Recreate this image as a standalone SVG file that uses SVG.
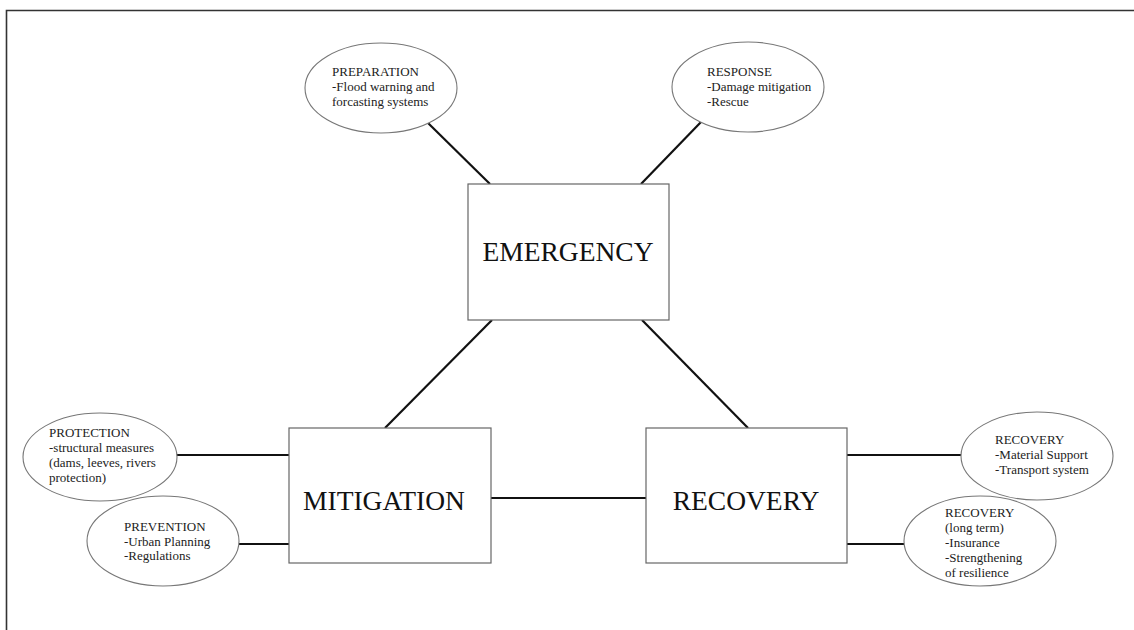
<svg xmlns="http://www.w3.org/2000/svg" width="1134" height="630" viewBox="0 0 1134 630">
<style>
.frame{stroke:#333;stroke-width:1.6;fill:none}
.box{fill:#fff;stroke:#666;stroke-width:1.2}
.ell{fill:#fff;stroke:#777;stroke-width:1.1}
.conn line{stroke:#111;stroke-width:2.2}
.big{font-family:"Liberation Serif","Times New Roman",serif;font-size:27.5px;fill:#111;text-anchor:middle}
.small{font-family:"Liberation Serif","Times New Roman",serif;font-size:13px;fill:#222}
</style>
<rect width="1134" height="630" fill="#fff"/>
<path class="frame" d="M6.5 630 V10.5 H1134"/>
<g class="conn" id="connectors">
<line x1="428" y1="123" x2="490" y2="184"/>
<line x1="701" y1="122" x2="641" y2="184"/>
<line x1="492" y1="320" x2="385" y2="428"/>
<line x1="642" y1="320" x2="748" y2="428"/>
<line x1="491" y1="498" x2="646" y2="498"/>
<line x1="176" y1="455" x2="289" y2="455"/>
<line x1="239" y1="544" x2="289" y2="544"/>
<line x1="847" y1="455" x2="961" y2="455"/>
<line x1="847" y1="544" x2="904" y2="544"/>
</g>
<g id="emergency">
<rect class="box" x="468" y="184" width="201" height="136"/>
<text class="big" x="568" y="261">EMERGENCY</text>
</g>
<g id="mitigation">
<rect class="box" x="289" y="428" width="202" height="135"/>
<text class="big" x="384" y="510">MITIGATION</text>
</g>
<g id="recovery">
<rect class="box" x="646" y="428" width="201" height="135"/>
<text class="big" x="746" y="510">RECOVERY</text>
</g>
<g id="preparation">
<ellipse class="ell" cx="381" cy="88" rx="76" ry="45"/>
<text class="small"><tspan x="332" y="76">PREPARATION</tspan><tspan x="332" y="91">-Flood warning and</tspan><tspan x="332" y="106">forcasting systems</tspan></text>
</g>
<g id="response">
<ellipse class="ell" cx="748" cy="87" rx="76" ry="45"/>
<text class="small"><tspan x="707" y="76">RESPONSE</tspan><tspan x="707" y="91">-Damage mitigation</tspan><tspan x="707" y="106">-Rescue</tspan></text>
</g>
<g id="protection">
<ellipse class="ell" cx="100" cy="457" rx="77" ry="44"/>
<text class="small"><tspan x="49" y="437">PROTECTION</tspan><tspan x="49" y="452">-structural measures</tspan><tspan x="49" y="467">(dams, leeves, rivers</tspan><tspan x="49" y="482">protection)</tspan></text>
</g>
<g id="prevention">
<ellipse class="ell" cx="163" cy="541" rx="76" ry="45"/>
<text class="small"><tspan x="124" y="531">PREVENTION</tspan><tspan x="124" y="546">-Urban Planning</tspan><tspan x="124" y="560">-Regulations</tspan></text>
</g>
<g id="recovery-short">
<ellipse class="ell" cx="1037" cy="456" rx="76" ry="44"/>
<text class="small"><tspan x="995" y="444">RECOVERY</tspan><tspan x="995" y="459">-Material Support</tspan><tspan x="995" y="474">-Transport system</tspan></text>
</g>
<g id="recovery-long">
<ellipse class="ell" cx="980" cy="541" rx="76" ry="45"/>
<text class="small"><tspan x="945" y="517">RECOVERY</tspan><tspan x="945" y="532">(long term)</tspan><tspan x="945" y="547">-Insurance</tspan><tspan x="945" y="562">-Strengthening</tspan><tspan x="945" y="577">of resilience</tspan></text>
</g>
</svg>
